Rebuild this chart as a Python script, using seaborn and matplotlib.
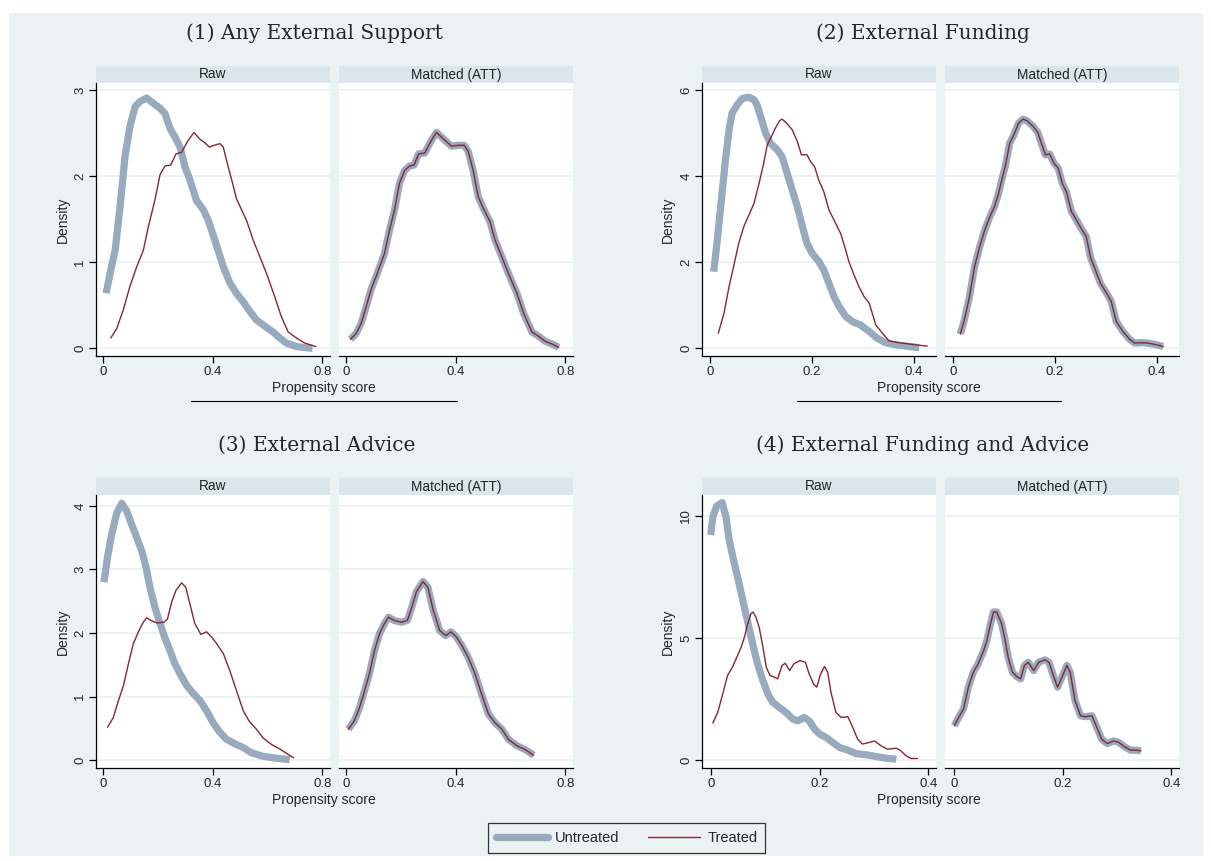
"""
Propensity score density plots: raw vs matched samples for four treatments.
"""

import matplotlib
matplotlib.use("Agg")
import matplotlib.pyplot as plt
import seaborn as sns
from matplotlib.patches import Rectangle
from matplotlib.lines import Line2D

# ---- data -----------------------------------------------------------------
# (1) Any External Support
p1_raw_untr_x = [0.010, 0.027, 0.043, 0.061, 0.079, 0.097, 0.116, 0.134, 0.158, 0.182, 0.207, 0.225,
                 0.243, 0.261, 0.280, 0.298, 0.316, 0.340, 0.365, 0.383, 0.407, 0.438, 0.462, 0.486,
                 0.511, 0.535, 0.559, 0.584, 0.620, 0.644, 0.669, 0.705, 0.742, 0.764]
p1_raw_untr_y = [0.64, 0.91, 1.14, 1.65, 2.23, 2.58, 2.81, 2.87, 2.91, 2.85, 2.79, 2.73,
                 2.56, 2.46, 2.34, 2.11, 1.96, 1.72, 1.61, 1.49, 1.26, 0.95, 0.76, 0.64,
                 0.54, 0.43, 0.33, 0.27, 0.19, 0.12, 0.06, 0.02, 0.005, 0.0]
p1_raw_tr_x = [0.027, 0.049, 0.073, 0.097, 0.122, 0.146, 0.164, 0.188, 0.207, 0.225, 0.246, 0.265,
               0.286, 0.310, 0.331, 0.353, 0.371, 0.387, 0.404, 0.426, 0.438, 0.456, 0.472, 0.486,
               0.505, 0.525, 0.547, 0.571, 0.596, 0.626, 0.650, 0.675, 0.705, 0.736, 0.776]
p1_raw_tr_y = [0.12, 0.23, 0.45, 0.72, 0.95, 1.14, 1.41, 1.72, 2.02, 2.12, 2.13, 2.26,
               2.28, 2.42, 2.51, 2.43, 2.39, 2.34, 2.36, 2.38, 2.34, 2.11, 1.92, 1.74,
               1.61, 1.47, 1.26, 1.07, 0.87, 0.60, 0.37, 0.19, 0.12, 0.06, 0.02]
p1_match_x = [0.015, 0.035, 0.054, 0.072, 0.090, 0.115, 0.139, 0.158, 0.176, 0.194, 0.213, 0.231,
              0.247, 0.264, 0.286, 0.311, 0.329, 0.353, 0.384, 0.409, 0.431, 0.445, 0.463, 0.482,
              0.500, 0.525, 0.543, 0.567, 0.592, 0.623, 0.647, 0.678, 0.702, 0.727, 0.751, 0.776]
p1_match_y = [0.105, 0.17, 0.29, 0.48, 0.68, 0.89, 1.10, 1.38, 1.61, 1.92, 2.07, 2.12,
              2.13, 2.26, 2.27, 2.42, 2.51, 2.44, 2.35, 2.36, 2.36, 2.29, 2.07, 1.76,
              1.63, 1.47, 1.26, 1.07, 0.87, 0.64, 0.41, 0.19, 0.14, 0.08, 0.05, 0.01]

# (2) External Funding
p2_raw_untr_x = [0.007, 0.014, 0.022, 0.030, 0.037, 0.043, 0.053, 0.063, 0.076, 0.086, 0.092, 0.099,
                 0.109, 0.118, 0.132, 0.141, 0.151, 0.161, 0.171, 0.181, 0.190, 0.200, 0.213, 0.223,
                 0.233, 0.243, 0.253, 0.266, 0.279, 0.295, 0.312, 0.328, 0.344, 0.364, 0.390, 0.410]
p2_raw_untr_y = [1.78, 2.52, 3.45, 4.38, 5.08, 5.47, 5.66, 5.81, 5.84, 5.78, 5.66, 5.39,
                 5.00, 4.77, 4.61, 4.46, 4.07, 3.68, 3.29, 2.83, 2.44, 2.21, 2.02, 1.82,
                 1.51, 1.20, 0.97, 0.74, 0.62, 0.54, 0.39, 0.23, 0.13, 0.08, 0.04, 0.015]
p2_raw_tr_x = [0.016, 0.027, 0.037, 0.046, 0.056, 0.066, 0.076, 0.086, 0.096, 0.105, 0.112, 0.120,
               0.128, 0.136, 0.141, 0.149, 0.161, 0.171, 0.179, 0.190, 0.197, 0.205, 0.213, 0.223,
               0.233, 0.243, 0.256, 0.264, 0.272, 0.282, 0.292, 0.302, 0.312, 0.325, 0.338, 0.351,
               0.370, 0.390, 0.410, 0.426]
p2_raw_tr_y = [0.35, 0.81, 1.43, 1.90, 2.44, 2.83, 3.10, 3.37, 3.84, 4.30, 4.73, 4.92,
               5.12, 5.29, 5.33, 5.25, 5.08, 4.81, 4.50, 4.50, 4.34, 4.22, 3.91, 3.64,
               3.22, 2.98, 2.67, 2.36, 2.02, 1.71, 1.43, 1.20, 1.05, 0.54, 0.35, 0.17,
               0.13, 0.10, 0.07, 0.05]
p2_match_x = [0.014, 0.022, 0.032, 0.042, 0.052, 0.062, 0.072, 0.081, 0.089, 0.096, 0.102, 0.111,
              0.119, 0.128, 0.137, 0.145, 0.157, 0.166, 0.173, 0.181, 0.189, 0.198, 0.206, 0.214,
              0.222, 0.232, 0.242, 0.251, 0.261, 0.270, 0.279, 0.289, 0.301, 0.310, 0.320, 0.333,
              0.346, 0.356, 0.369, 0.382, 0.399, 0.412]
p2_match_y = [0.33, 0.66, 1.20, 1.90, 2.36, 2.75, 3.06, 3.29, 3.60, 3.95, 4.22, 4.77,
              4.96, 5.23, 5.33, 5.29, 5.16, 5.02, 4.77, 4.50, 4.52, 4.30, 4.19, 3.84,
              3.64, 3.18, 2.98, 2.79, 2.60, 2.09, 1.82, 1.51, 1.28, 1.09, 0.62, 0.39,
              0.21, 0.12, 0.13, 0.12, 0.08, 0.04]

# (3) External Advice
p3_raw_untr_x = [0.002, 0.015, 0.030, 0.049, 0.067, 0.085, 0.103, 0.122, 0.140, 0.156, 0.170, 0.188,
                 0.207, 0.225, 0.243, 0.261, 0.280, 0.304, 0.328, 0.353, 0.377, 0.401, 0.426, 0.450,
                 0.480, 0.511, 0.541, 0.578, 0.620, 0.681]
p3_raw_untr_y = [2.80, 3.19, 3.55, 3.89, 4.04, 3.92, 3.71, 3.50, 3.29, 3.03, 2.72, 2.41,
                 2.15, 1.92, 1.73, 1.52, 1.36, 1.18, 1.05, 0.94, 0.78, 0.59, 0.44, 0.33,
                 0.26, 0.20, 0.12, 0.07, 0.04, 0.01]
p3_raw_tr_x = [0.015, 0.036, 0.055, 0.073, 0.091, 0.109, 0.128, 0.143, 0.158, 0.173, 0.195, 0.221,
               0.234, 0.249, 0.265, 0.286, 0.301, 0.316, 0.334, 0.356, 0.377, 0.395, 0.413, 0.438,
               0.462, 0.486, 0.511, 0.532, 0.559, 0.584, 0.614, 0.644, 0.669, 0.695]
p3_raw_tr_y = [0.52, 0.67, 0.94, 1.17, 1.51, 1.83, 2.02, 2.15, 2.24, 2.20, 2.16, 2.17,
               2.22, 2.48, 2.67, 2.79, 2.72, 2.46, 2.15, 1.98, 2.02, 1.94, 1.84, 1.68,
               1.41, 1.10, 0.78, 0.62, 0.49, 0.35, 0.25, 0.18, 0.11, 0.04]
p3_match_x = [0.007, 0.029, 0.048, 0.066, 0.084, 0.103, 0.121, 0.139, 0.154, 0.174, 0.201, 0.223,
              0.237, 0.256, 0.280, 0.298, 0.317, 0.341, 0.363, 0.382, 0.402, 0.421, 0.445, 0.470,
              0.494, 0.519, 0.543, 0.568, 0.592, 0.623, 0.653, 0.684]
p3_match_y = [0.49, 0.62, 0.83, 1.09, 1.36, 1.73, 1.99, 2.15, 2.25, 2.20, 2.17, 2.20,
              2.38, 2.65, 2.81, 2.72, 2.36, 2.04, 1.96, 2.02, 1.94, 1.81, 1.62, 1.36,
              1.04, 0.73, 0.59, 0.49, 0.33, 0.23, 0.17, 0.08]

# (4) External Funding and Advice
p4_raw_untr_x = [0.000, 0.004, 0.011, 0.021, 0.028, 0.034, 0.042, 0.050, 0.059, 0.068, 0.077, 0.086,
                 0.096, 0.105, 0.114, 0.126, 0.138, 0.151, 0.160, 0.172, 0.181, 0.191, 0.200, 0.212,
                 0.224, 0.237, 0.252, 0.267, 0.286, 0.304, 0.322, 0.341]
p4_raw_untr_y = [9.22, 9.97, 10.41, 10.55, 9.97, 9.01, 8.19, 7.44, 6.55, 5.66, 4.77, 3.95,
                 3.26, 2.71, 2.37, 2.16, 1.96, 1.68, 1.61, 1.75, 1.61, 1.27, 1.07, 0.93,
                 0.73, 0.52, 0.41, 0.27, 0.22, 0.15, 0.08, 0.04]
p4_raw_tr_x = [0.004, 0.013, 0.022, 0.031, 0.040, 0.048, 0.056, 0.062, 0.068, 0.074, 0.078, 0.083,
               0.089, 0.096, 0.102, 0.109, 0.117, 0.123, 0.131, 0.137, 0.145, 0.153, 0.164, 0.174,
               0.181, 0.189, 0.195, 0.201, 0.209, 0.215, 0.221, 0.230, 0.240, 0.252, 0.261, 0.270,
               0.279, 0.292, 0.301, 0.313, 0.325, 0.341, 0.348, 0.359, 0.368, 0.380]
p4_raw_tr_y = [1.52, 1.96, 2.71, 3.47, 3.81, 4.22, 4.63, 5.04, 5.59, 6.00, 6.07, 5.86,
               5.45, 4.63, 3.81, 3.47, 3.40, 3.33, 3.88, 3.97, 3.67, 3.95, 4.08, 4.01,
               3.53, 3.12, 2.99, 3.47, 3.84, 3.60, 2.78, 1.96, 1.75, 1.78, 1.34, 0.86,
               0.66, 0.73, 0.79, 0.59, 0.45, 0.49, 0.41, 0.18, 0.07, 0.07]
p4_match_x = [0.001, 0.009, 0.018, 0.027, 0.036, 0.045, 0.055, 0.061, 0.067, 0.073, 0.079, 0.088,
              0.094, 0.100, 0.108, 0.116, 0.123, 0.130, 0.137, 0.147, 0.156, 0.168, 0.175, 0.183,
              0.191, 0.199, 0.208, 0.214, 0.223, 0.233, 0.242, 0.254, 0.263, 0.272, 0.282, 0.294,
              0.303, 0.314, 0.325, 0.337, 0.344]
p4_match_y = [1.41, 1.75, 2.10, 2.99, 3.60, 3.95, 4.49, 4.90, 5.52, 6.07, 6.07, 5.59,
              4.97, 4.22, 3.60, 3.42, 3.33, 3.88, 4.01, 3.67, 4.01, 4.11, 4.01, 3.47,
              2.99, 3.40, 3.88, 3.60, 2.44, 1.82, 1.78, 1.82, 1.34, 0.86, 0.68, 0.79,
              0.73, 0.55, 0.41, 0.41, 0.38]

titles = ["(1) Any External Support", "(2) External Funding",
          "(3) External Advice", "(4) External Funding and Advice"]
facet_labels = ["Raw", "Matched (ATT)"]
series_labels = ["Untreated", "Treated"]

x_ticks_wide = [0, 0.4, 0.8]
x_ticks_narrow = [0, 0.2, 0.4]
y_ticks = [[0, 1, 2, 3], [0, 2, 4, 6], [0, 1, 2, 3, 4], [0, 5, 10]]

# ---- style -----------------------------------------------------------------
W, H = 1211, 861
BG = "#EAF2F3"
STRIP = "#D9E6EB"
UNTR = "#98AABD"
TREAT = "#8B2530"

sns.set_style("white")
plt.rcParams["font.family"] = ["Liberation Sans", "DejaVu Sans"]


def px_axes(fig, x0, y0, x1, y1):
    """Add axes given pixel box (top-left origin)."""
    return fig.add_axes([x0 / W, 1 - y1 / H, (x1 - x0) / W, (y1 - y0) / H])


def fig_rect(fig, x0, y0, x1, y1, color):
    fig.patches.append(Rectangle((x0 / W, 1 - y1 / H), (x1 - x0) / W, (y1 - y0) / H,
                                 transform=fig.transFigure, facecolor=color,
                                 edgecolor="none", zorder=-5))


def fmt_tick(v):
    return "0" if v == 0 else (f"{v:g}")


fig = plt.figure(figsize=(W / 100, H / 100), dpi=100)
fig.patch.set_facecolor("white")
fig_rect(fig, 9, 13, 1203, 856, BG)

panels = [
    dict(title=titles[0], left=96, top=83, title_x=315, xlab_x=324, dens_x=63,
         xlim=(-0.027, 0.828), ylim=(-0.09, 3.085), xticks=x_ticks_wide, yticks=y_ticks[0],
         raw=(p1_raw_untr_x, p1_raw_untr_y, p1_raw_tr_x, p1_raw_tr_y),
         match=(p1_match_x, p1_match_y), underline=(191, 457)),
    dict(title=titles[1], left=702, top=83, title_x=923, xlab_x=929, dens_x=668,
         xlim=(-0.016, 0.443), ylim=(-0.18, 6.17), xticks=x_ticks_narrow, yticks=y_ticks[1],
         raw=(p2_raw_untr_x, p2_raw_untr_y, p2_raw_tr_x, p2_raw_tr_y),
         match=(p2_match_x, p2_match_y), underline=(797, 1061)),
    dict(title=titles[2], left=96, top=495, title_x=317, xlab_x=324, dens_x=63,
         xlim=(-0.027, 0.828), ylim=(-0.12, 4.17), xticks=x_ticks_wide, yticks=y_ticks[2],
         raw=(p3_raw_untr_x, p3_raw_untr_y, p3_raw_tr_x, p3_raw_tr_y),
         match=(p3_match_x, p3_match_y), underline=None),
    dict(title=titles[3], left=702, top=495, title_x=923, xlab_x=929, dens_x=668,
         xlim=(-0.016, 0.414), ylim=(-0.32, 10.86), xticks=x_ticks_narrow, yticks=y_ticks[3],
         raw=(p4_raw_untr_x, p4_raw_untr_y, p4_raw_tr_x, p4_raw_tr_y),
         match=(p4_match_x, p4_match_y), underline=None),
]

FACET_W = 234
GAP = 9
PLOT_H = 273
STRIP_H = 17

for p in panels:
    top = p["top"]
    fig.text(p["title_x"] / W, 1 - (top - 50) / H, p["title"], ha="center", va="center",
             fontsize=14.5, family=["DejaVu Serif"])
    for k in range(2):
        x0 = p["left"] + k * (FACET_W + GAP)
        x1 = x0 + FACET_W
        ax = px_axes(fig, x0, top, x1, top + PLOT_H)
        fig_rect(fig, x0, top - STRIP_H, x1, top, STRIP)
        fig.text((x0 + x1) / 2 / W, 1 - (top - STRIP_H / 2) / H, facet_labels[k],
                 ha="center", va="center", fontsize=9.8, color="#222222")
        ax.set_facecolor("white")
        for t in p["yticks"]:
            ax.axhline(t, color=BG, lw=1.3, zorder=0)
        if k == 0:
            ux, uy, tx, ty = p["raw"]
        else:
            ux, uy = p["match"]
            tx, ty = p["match"]
        sns.lineplot(x=ux, y=uy, ax=ax, color=UNTR, linewidth=5.2, sort=False,
                     solid_joinstyle="round", solid_capstyle="butt")
        sns.lineplot(x=tx, y=ty, ax=ax, color=TREAT, linewidth=1.0, sort=False,
                     solid_joinstyle="round")
        ax.set_xlim(*p["xlim"])
        ax.set_ylim(*p["ylim"])
        ax.set_xticks(p["xticks"])
        ax.set_xticklabels([fmt_tick(v) for v in p["xticks"]])
        ax.set_yticks(p["yticks"])
        ax.set_xlabel("")
        ax.set_ylabel("")
        ax.spines["top"].set_visible(False)
        ax.spines["right"].set_visible(False)
        ax.spines["bottom"].set_linewidth(0.9)
        ax.spines["bottom"].set_color("black")
        ax.tick_params(axis="x", length=5, width=0.9, color="black", labelsize=9.5,
                       pad=2, direction="out", bottom=True)
        if k == 0:
            ax.spines["left"].set_linewidth(0.9)
            ax.spines["left"].set_color("black")
            ax.set_yticklabels([fmt_tick(v) for v in p["yticks"]], rotation=90, va="center")
            ax.tick_params(axis="y", length=5, width=0.9, color="black", labelsize=9.5,
                           pad=2, direction="out", left=True)
        else:
            ax.spines["left"].set_visible(False)
            ax.tick_params(axis="y", left=False, labelleft=False)
    fig.text(p["dens_x"] / W, 1 - (top + PLOT_H / 2) / H, "Density", rotation=90,
             ha="center", va="center", fontsize=10)
    fig.text(p["xlab_x"] / W, 1 - (top + 305) / H, "Propensity score",
             ha="center", va="center", fontsize=10)
    if p["underline"] is not None:
        ux0, ux1 = p["underline"]
        fig.add_artist(Line2D([ux0 / W, ux1 / W], [1 - (top + 318) / H] * 2,
                              transform=fig.transFigure, color="black", lw=0.8))

handles = [Line2D([], [], color=UNTR, lw=5.2), Line2D([], [], color=TREAT, lw=1.0)]
leg = fig.legend(handles, series_labels, loc="center", bbox_to_anchor=(626.5 / W, 1 - 838 / H),
                 ncol=2, frameon=True, fancybox=False, edgecolor="#333333", facecolor=BG,
                 fontsize=10.5, handlelength=3.6, columnspacing=1.9, borderpad=0.55,
                 handletextpad=0.5)
leg.get_frame().set_linewidth(0.9)
leg.get_frame().set_alpha(1)

fig.savefig("out.png", dpi=100, facecolor="white")
